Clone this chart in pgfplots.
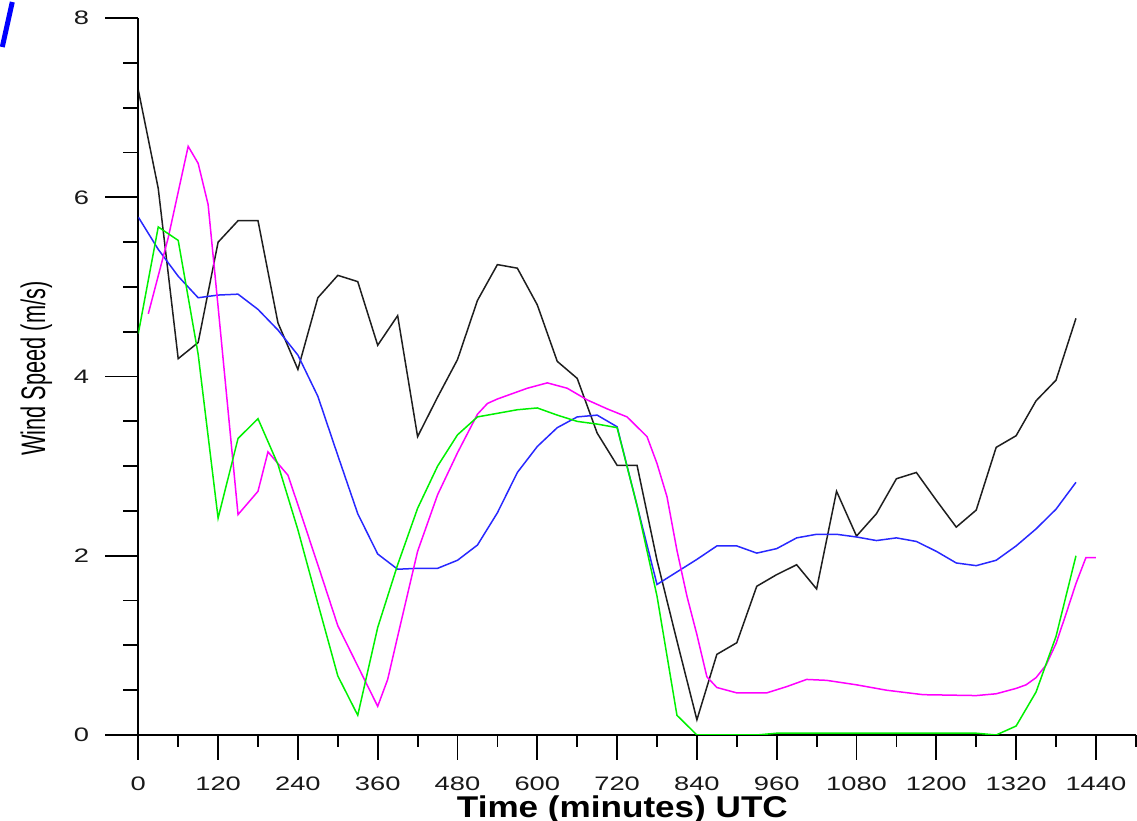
\documentclass[border=0pt]{standalone}
\usepackage{fontspec}
\setmainfont{Liberation Sans}
\newfontfamily\ylabfont{Liberation Sans}[FakeStretch=0.64]
\newfontfamily\xlabfont{Liberation Sans}[FakeStretch=1.17]
\usepackage{graphicx}
\usepackage{pgfplots}
\pgfplotsset{compat=1.18}
\definecolor{sblack}{RGB}{30,30,30}
\definecolor{sblue}{RGB}{40,40,255}
\definecolor{smag}{RGB}{255,0,255}
\definecolor{sgreen}{RGB}{0,240,0}
\newcommand{\tl}[1]{\mbox{\scalebox{1.4}[1]{\fontsize{19.5}{20}\selectfont #1}}}
\begin{document}
\begin{tikzpicture}
\begin{axis}[
  at={(0,0)}, anchor=south west,
  x=0.665pt, y=89.6pt,
  xmin=0, xmax=1500, ymin=0, ymax=8,
  enlargelimits=false,
  axis lines=left,
  axis line style={-, black, line width=1.8pt},
  x axis line style={-}, y axis line style={-},
  tick align=outside,
  major tick length=33pt, minor tick length=15pt,
  xtick style={/pgfplots/major tick length=25pt, /pgfplots/minor tick length=12pt},
  tick style={black, line width=1.8pt},
  xtick={0,120,...,1440},
  xticklabels={\tl{0},\tl{120},\tl{240},\tl{360},\tl{480},\tl{600},\tl{720},\tl{840},\tl{960},\tl{1080},\tl{1200},\tl{1320},\tl{1440}},
  minor xtick={60,180,...,1500},
  ytick={0,2,4,6,8},
  yticklabels={\tl{0},\tl{2},\tl{4},\tl{6},\tl{8}},
  minor ytick={0.5,1,1.5,2.5,3,3.5,4.5,5,5.5,6.5,7,7.5},
  tick label style={text=black!90},
  xticklabel style={anchor=base, yshift=-23pt},
  yticklabel style={anchor=east, inner sep=0pt, xshift=-16pt},
  xlabel={Time (minutes) UTC},
  ylabel={Wind Speed (m/s)},
  xlabel style={font=\xlabfont\bfseries\fontsize{30}{32}\selectfont, at={(axis description cs:0.4853,-0.1145)}, anchor=base},
  ylabel style={font=\ylabfont\fontsize{34}{36}\selectfont, at={(axis description cs:-0.0933,0.511)}, anchor=base},
]
% black series
\addplot[sblack, line width=1.5pt] table {
x y
0 7.2
30 6.1
60 4.2
90 4.38
120 5.5
150 5.74
180 5.74
210 4.6
240 4.08
270 4.88
300 5.13
330 5.06
360 4.35
390 4.68
420 3.33
450 3.77
480 4.19
510 4.85
540 5.25
570 5.21
600 4.8
630 4.17
660 3.98
690 3.37
720 3.01
750 3.01
780 1.95
810 1.05
840 0.17
870 0.9
900 1.03
930 1.66
960 1.79
990 1.9
1020 1.63
1050 2.72
1080 2.22
1110 2.47
1140 2.86
1170 2.93
1200 2.62
1230 2.32
1260 2.51
1290 3.21
1320 3.34
1350 3.73
1380 3.96
1410 4.65
};
% blue series
\addplot[sblue, line width=1.5pt] table {
x y
0 5.78
30 5.42
60 5.12
90 4.88
120 4.91
150 4.92
180 4.75
210 4.52
240 4.24
270 3.78
300 3.12
330 2.47
360 2.02
390 1.85
420 1.86
450 1.86
480 1.95
510 2.12
540 2.48
570 2.93
600 3.22
630 3.43
660 3.55
690 3.57
720 3.44
750 2.56
780 1.68
810 1.82
840 1.96
870 2.11
900 2.11
930 2.03
960 2.08
990 2.2
1020 2.24
1050 2.24
1080 2.21
1110 2.17
1140 2.2
1170 2.16
1200 2.05
1230 1.92
1260 1.89
1290 1.95
1320 2.11
1350 2.3
1380 2.52
1410 2.82
};
% magenta series
\addplot[smag, line width=1.5pt] table {
x y
15 4.7
45 5.55
75 6.57
90 6.38
105 5.92
120 4.78
150 2.46
180 2.72
195 3.16
225 2.9
240 2.57
270 1.9
300 1.22
330 0.77
360 0.32
375 0.62
390 1.1
420 2.05
450 2.68
480 3.15
510 3.58
525 3.7
540 3.75
570 3.83
585 3.87
615 3.93
645 3.87
675 3.74
705 3.64
735 3.55
765 3.33
780 3.03
795 2.66
810 2.06
825 1.55
840 1.12
855 0.65
870 0.53
900 0.47
945 0.47
975 0.54
1005 0.62
1035 0.61
1080 0.56
1125 0.5
1180 0.45
1260 0.44
1290 0.46
1320 0.52
1335 0.56
1350 0.64
1365 0.78
1380 1.02
1395 1.35
1410 1.69
1425 1.98
1440 1.98
};
% green series
\addplot[sgreen, line width=1.5pt] table {
x y
0 4.48
30 5.67
60 5.52
90 4.25
120 2.42
150 3.31
180 3.53
210 3.02
240 2.29
270 1.47
300 0.66
330 0.22
360 1.2
390 1.9
420 2.53
450 3.0
480 3.35
510 3.55
540 3.59
570 3.63
600 3.65
630 3.57
660 3.5
690 3.47
720 3.43
750 2.56
780 1.55
810 0.22
840 0.0
870 0.0
900 0.0
930 0.0
960 0.02
990 0.02
1020 0.02
1050 0.02
1080 0.02
1110 0.02
1140 0.02
1170 0.02
1200 0.02
1230 0.02
1260 0.02
1290 0.0
1320 0.1
1350 0.48
1380 1.1
1410 2.0
};
\end{axis}
\draw[blue, line width=5pt] (-136pt,688pt) -- (-126pt,733pt);
\pgfresetboundingbox
\path (-138.3pt,-86pt) rectangle (998.7pt,735pt);
\end{tikzpicture}
\end{document}
